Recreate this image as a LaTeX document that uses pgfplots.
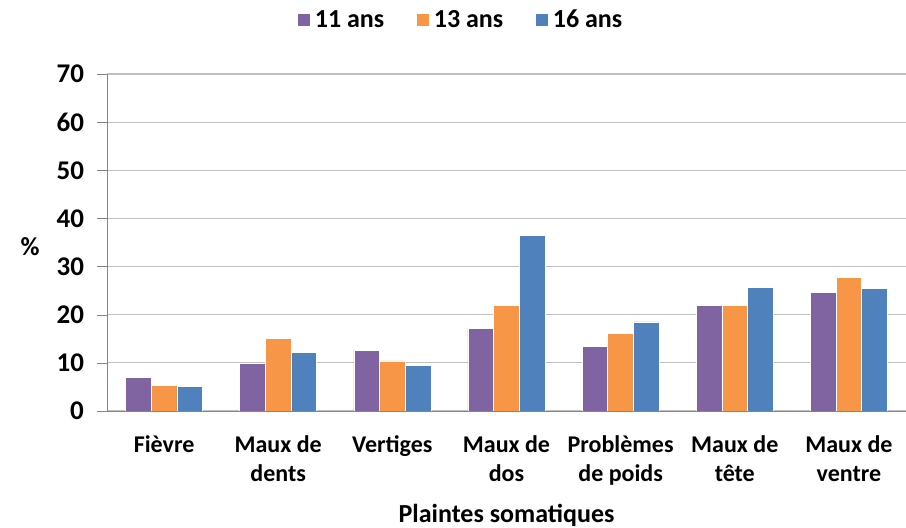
\documentclass[border=0pt]{standalone}
\usepackage{fontspec}
\setmainfont{Carlito}
\usepackage{pgfplots}
\pgfplotsset{compat=1.18}
\definecolor{cPurple}{HTML}{8064A2}
\definecolor{cOrange}{HTML}{F79646}
\definecolor{cBlue}{HTML}{4F81BD}
\definecolor{cGrid}{HTML}{C0C0C0}
\definecolor{cAxis}{HTML}{868686}
\begin{document}
\begin{tikzpicture}
\path[use as bounding box] (-53.5pt,-58.5pt) rectangle (399.5pt,205.5pt);
\begin{axis}[
    scale only axis, width=399.5pt, height=168.5pt,
    font=\fontsize{13}{15}\selectfont\bfseries,
    /pgf/number format/assume math mode=true,
    ybar=0pt, bar width=12.85pt,
    xmin=-0.5, xmax=6.5, ymin=0, ymax=70, ytick distance=10,
    xtick={0,...,6},
    xticklabels={Fièvre, {Maux de\\dents}, Vertiges, {Maux de\\dos}, {Problèmes\\de poids}, {Maux de\\tête}, {Maux de\\ventre}},
    xticklabel style={align=center, yshift=-4pt, font=\fontsize{12}{14.5}\selectfont\bfseries},
    major x tick style={draw=none},
    extra x ticks={-0.5,0.5,...,6.5}, extra x tick labels={},
    extra x tick style={major tick length=4pt, tick style={cAxis}},
    major tick length=5pt, tick align=outside,
    axis x line*=bottom, axis y line*=left,
    axis line style={cAxis, -},
    y tick style={cAxis},
    ymajorgrids, grid style={cGrid, line width=0.6pt},
    yticklabel style={xshift=-3pt, font=\fontsize{13.5}{15}\selectfont\bfseries},
    xlabel={Plaintes somatiques},
    xlabel style={yshift=6.5pt},
    ylabel={\%},
    every axis y label/.style={at={(rel axis cs:0,0.487)}, anchor=center, xshift=-38.5pt},
    legend style={at={(0.444,1.16)}, anchor=center, draw=none, fill=none,
        legend columns=-1, /tikz/every even column/.append style={column sep=14pt}},
    legend image code/.code={\fill[#1] (0pt,-3.25pt) rectangle (6.5pt,3.25pt);},
]
\addplot[fill=cPurple, draw=white, line width=0.3pt] coordinates {(0,7.0) (1,9.9) (2,12.6) (3,17.1) (4,13.4) (5,22.0) (6,24.7)};
\addplot[fill=cOrange, draw=white, line width=0.3pt] coordinates {(0,5.3) (1,15.0) (2,10.4) (3,22.0) (4,16.1) (5,22.0) (6,27.7)};
\addplot[fill=cBlue, draw=white, line width=0.3pt] coordinates {(0,5.1) (1,12.1) (2,9.4) (3,36.5) (4,18.5) (5,25.7) (6,25.5)};
\legend{11 ans, 13 ans, 16 ans}
\end{axis}
\end{tikzpicture}
\end{document}
